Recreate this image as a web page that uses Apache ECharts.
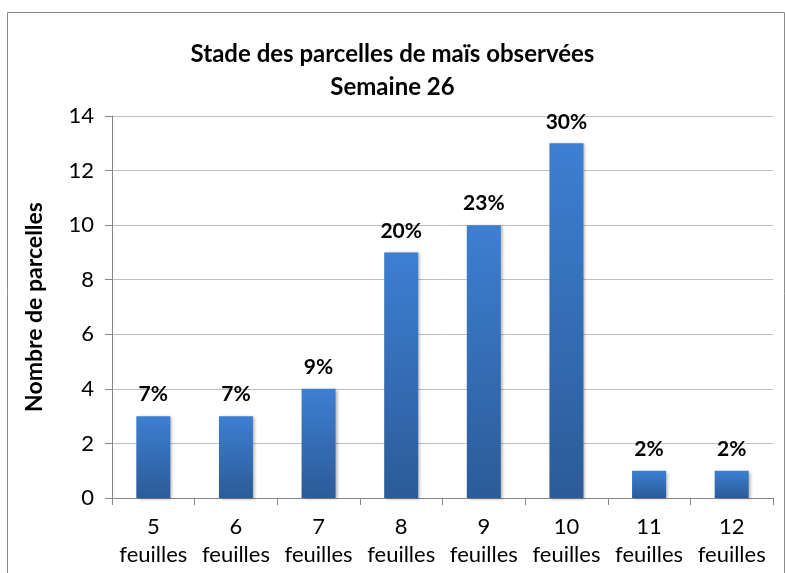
<!DOCTYPE html>
<html lang="fr">
<head>
    <meta charset="UTF-8">
    <title>Stade des parcelles de maïs observées</title>
    <script src="https://cdn.jsdelivr.net/npm/echarts@6/dist/echarts.min.js"></script>
    <style>
        * { padding: 0; margin: 0; }
        #chart { width: 785px; height: 573px; background: #fff; }
    </style>
</head>
<body>
<div id="chart"></div>
<script>
    // données
    var categories = ['5\nfeuilles', '6\nfeuilles', '7\nfeuilles', '8\nfeuilles', '9\nfeuilles', '10\nfeuilles', '11\nfeuilles', '12\nfeuilles'];
    var values = [3, 3, 4, 9, 10, 13, 1, 1];
    var pctLabels = ['7%', '7%', '9%', '20%', '23%', '30%', '2%', '2%'];

    var font = 'Lato, "Open Sans", sans-serif';
    var chart = echarts.init(document.getElementById('chart'));

    chart.setOption({
        backgroundColor: '#ffffff',
        animation: false,
        graphic: [{
            type: 'rect',
            left: 5, top: 10,
            shape: { width: 777, height: 620 },
            style: { fill: 'none', stroke: '#8c8c8c', lineWidth: 1 },
            z: -1
        }],
        title: {
            text: 'Stade des parcelles de maïs observées\nSemaine 26',
            left: 'center',
            top: 33,
            textStyle: {
                fontFamily: font,
                fontSize: 24,
                fontWeight: 'bold',
                color: '#000',
                lineHeight: 33
            }
        },
        grid: { left: 112, right: 12, top: 116, bottom: 75 },
        xAxis: {
            type: 'category',
            data: categories,
            axisLine: { lineStyle: { color: '#868686' } },
            axisTick: { show: true, length: 7, lineStyle: { color: '#868686' } },
            axisLabel: {
                interval: 0,
                color: '#000',
                fontFamily: font,
                fontSize: 22,
                lineHeight: 28,
                margin: 15
            }
        },
        yAxis: {
            type: 'value',
            min: 0, max: 14, interval: 2,
            name: 'Nombre de parcelles',
            nameLocation: 'middle',
            nameGap: 66,
            nameTextStyle: { fontFamily: font, fontSize: 23, fontWeight: 'bold', color: '#000' },
            axisLine: { show: true, lineStyle: { color: '#868686' } },
            axisTick: { show: true, length: 7, lineStyle: { color: '#868686' } },
            splitLine: { lineStyle: { color: '#bfbfbf' } },
            axisLabel: { color: '#000', fontFamily: font, fontSize: 22, margin: 18 }
        },
        series: [{
            type: 'bar',
            data: values,
            barWidth: 34,
            itemStyle: {
                color: new echarts.graphic.LinearGradient(0, 0, 0, 1, [
                    { offset: 0, color: '#3d7fd2' },
                    { offset: 1, color: '#2c5b98' }
                ]),
                shadowColor: 'rgba(0,0,0,0.3)',
                shadowBlur: 3,
                shadowOffsetX: 2,
                shadowOffsetY: 1
            },
            label: {
                show: true,
                position: 'top',
                distance: 11,
                fontFamily: font,
                fontSize: 21,
                fontWeight: 'bold',
                color: '#000',
                formatter: function (p) { return pctLabels[p.dataIndex]; }
            }
        }]
    });
</script>
</body>
</html>
